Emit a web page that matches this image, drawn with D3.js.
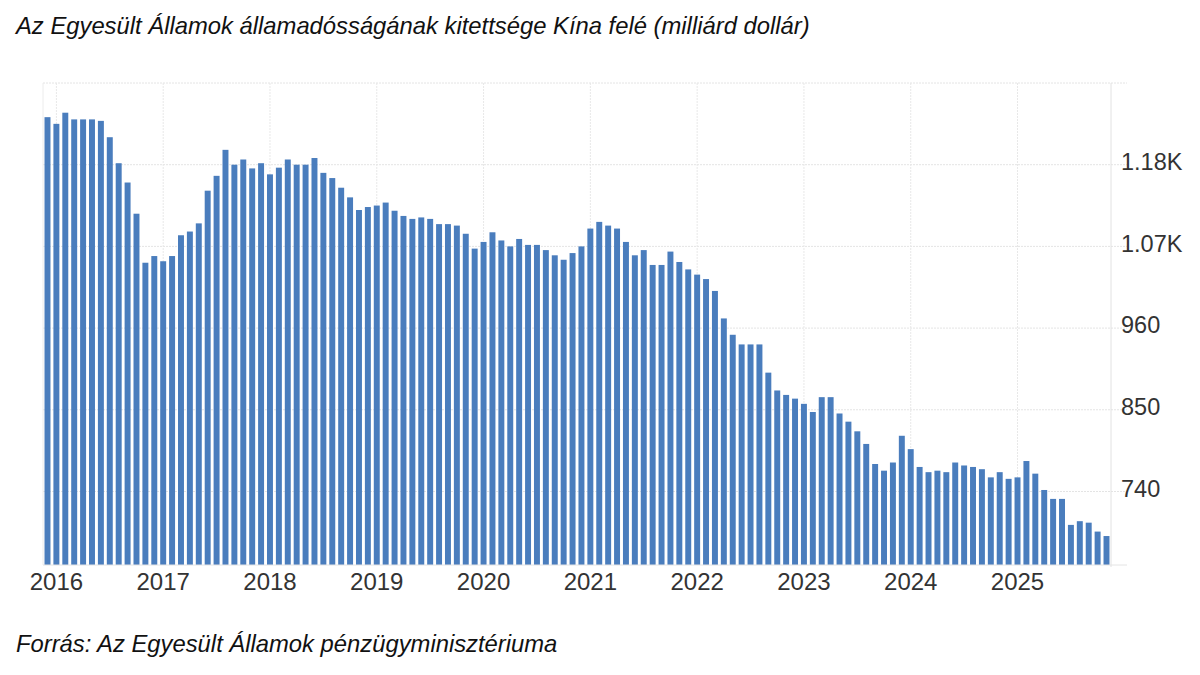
<!DOCTYPE html>
<html>
<head>
<meta charset="utf-8">
<script src="https://cdn.jsdelivr.net/npm/d3@7"></script>
<style>
  html, body { margin: 0; padding: 0; background: #fff; }
  svg { display: block; font-family: "Liberation Sans", Arial, sans-serif; }
</style>
</head>
<body>
<svg id="chart" width="1200" height="675"></svg>
<script>
// monthly values, Dec 2015 .. Nov 2025 (billion USD)
const values2015 = [1244];
const values2016 = [1235, 1250, 1241, 1241, 1241, 1239, 1217, 1182, 1156, 1114, 1048, 1057];
const values2017 = [1050, 1057, 1085, 1090, 1101, 1145, 1165, 1200, 1180, 1187, 1175, 1182];
const values2018 = [1167, 1176, 1187, 1180, 1180, 1189, 1169, 1162, 1149, 1136, 1119, 1123];
const values2019 = [1125, 1129, 1118, 1111, 1107, 1109, 1107, 1100, 1100, 1098, 1087, 1067];
const values2020 = [1076, 1089, 1078, 1070, 1080, 1072, 1072, 1065, 1058, 1052, 1061, 1070];
const values2021 = [1094, 1103, 1098, 1094, 1076, 1058, 1065, 1045, 1045, 1063, 1049, 1039];
const values2022 = [1032, 1026, 1010, 973, 951, 938, 938, 938, 900, 876, 870, 865];
const values2023 = [858, 847, 867, 867, 845, 834, 821, 804, 777, 768, 779, 815];
const values2024 = [797, 773, 766, 768, 766, 779, 775, 773, 770, 759, 766, 757];
const values2025 = [759, 781, 764, 742, 730, 730, 695, 700, 698, 686, 680];

const values = [].concat(values2015, values2016, values2017, values2018, values2019,
  values2020, values2021, values2022, values2023, values2024, values2025);
const months = d3.timeMonth.range(new Date(2015, 11, 1), new Date(2025, 11, 1));

const yearLabels = ["2016", "2017", "2018", "2019", "2020", "2021", "2022", "2023", "2024", "2025"];
const yTicks = [740, 850, 960, 1070, 1180];

const titleText = "Az Egyesült Államok államadósságának kitettsége Kína felé (milliárd dollár)";
const sourceText = "Forrás: Az Egyesült Államok pénzügyminisztériuma";

const svg = d3.select("#chart");
const plot = { left: 43, right: 1111, top: 83, bottom: 565 };

const x = d3.scaleBand()
  .domain(months.map(d => +d))
  .range([plot.left, plot.right])
  .paddingInner(0.33)
  .paddingOuter(0.17);

const y = d3.scaleLinear()
  .domain([641, 1290])
  .range([plot.bottom, plot.top]);

const fmt = d => d >= 1000 ? (d / 1000).toFixed(2) + "K" : String(d);

// grid
const grid = svg.append("g");
grid.selectAll("line.h")
  .data(yTicks.concat([1290]))
  .enter().append("line")
  .attr("x1", plot.left).attr("x2", 1127)
  .attr("y1", d => y(d)).attr("y2", d => y(d))
  .attr("stroke", "#e4e4e4")
  .attr("stroke-dasharray", "2,1");

const yearStarts = yearLabels.map(s => +new Date(+s, 0, 1));
grid.selectAll("line.v")
  .data(yearStarts)
  .enter().append("line")
  .attr("x1", d => x(d) + x.bandwidth() / 2).attr("x2", d => x(d) + x.bandwidth() / 2)
  .attr("y1", plot.top).attr("y2", plot.bottom)
  .attr("stroke", "#e8e8e8")
  .attr("stroke-dasharray", "2,1");

grid.append("line")
  .attr("x1", plot.left).attr("x2", plot.left)
  .attr("y1", plot.top).attr("y2", plot.bottom)
  .attr("stroke", "#ececec");

grid.append("line")
  .attr("x1", plot.right).attr("x2", plot.right)
  .attr("y1", plot.top).attr("y2", plot.bottom + 2)
  .attr("stroke", "#e2e2e2");

// bars
svg.append("g")
  .selectAll("rect")
  .data(values)
  .enter().append("rect")
  .attr("x", (d, i) => x(+months[i]))
  .attr("width", x.bandwidth())
  .attr("y", d => y(d))
  .attr("height", d => plot.bottom - y(d))
  .attr("fill", "#4a7dbd");

svg.append("line")
  .attr("x1", plot.left).attr("x2", 1127)
  .attr("y1", plot.bottom).attr("y2", plot.bottom)
  .attr("stroke", "#e4e4e4");

// y axis on the right
const yAxis = d3.axisRight(y)
  .tickValues(yTicks)
  .tickSize(0)
  .tickPadding(10)
  .tickFormat(fmt);

svg.append("g")
  .attr("transform", `translate(${plot.right},0)`)
  .call(yAxis)
  .call(g => g.select(".domain").remove())
  .call(g => g.selectAll("text")
    .attr("font-family", "'Liberation Sans', Arial, sans-serif")
    .attr("font-size", "23.5px")
    .attr("fill", "#333")
    .attr("dy", "0.2em"));

// x axis labels
const xAxis = d3.axisBottom(x)
  .tickValues(yearStarts)
  .tickSize(0)
  .tickPadding(8)
  .tickFormat(d => String(new Date(d).getFullYear()));

svg.append("g")
  .attr("transform", `translate(0,${plot.bottom})`)
  .call(xAxis)
  .call(g => g.select(".domain").remove())
  .call(g => g.selectAll("text")
    .attr("font-family", "'Liberation Sans', Arial, sans-serif")
    .attr("font-size", "24px")
    .attr("fill", "#333"));

// texts
svg.append("text")
  .attr("x", 16).attr("y", 34)
  .attr("font-size", "23.8px")
  .attr("font-style", "italic")
  .attr("fill", "#111")
  .text(titleText);

svg.append("text")
  .attr("x", 16).attr("y", 652)
  .attr("font-size", "23.8px")
  .attr("font-style", "italic")
  .attr("fill", "#111")
  .text(sourceText);
</script>
</body>
</html>
